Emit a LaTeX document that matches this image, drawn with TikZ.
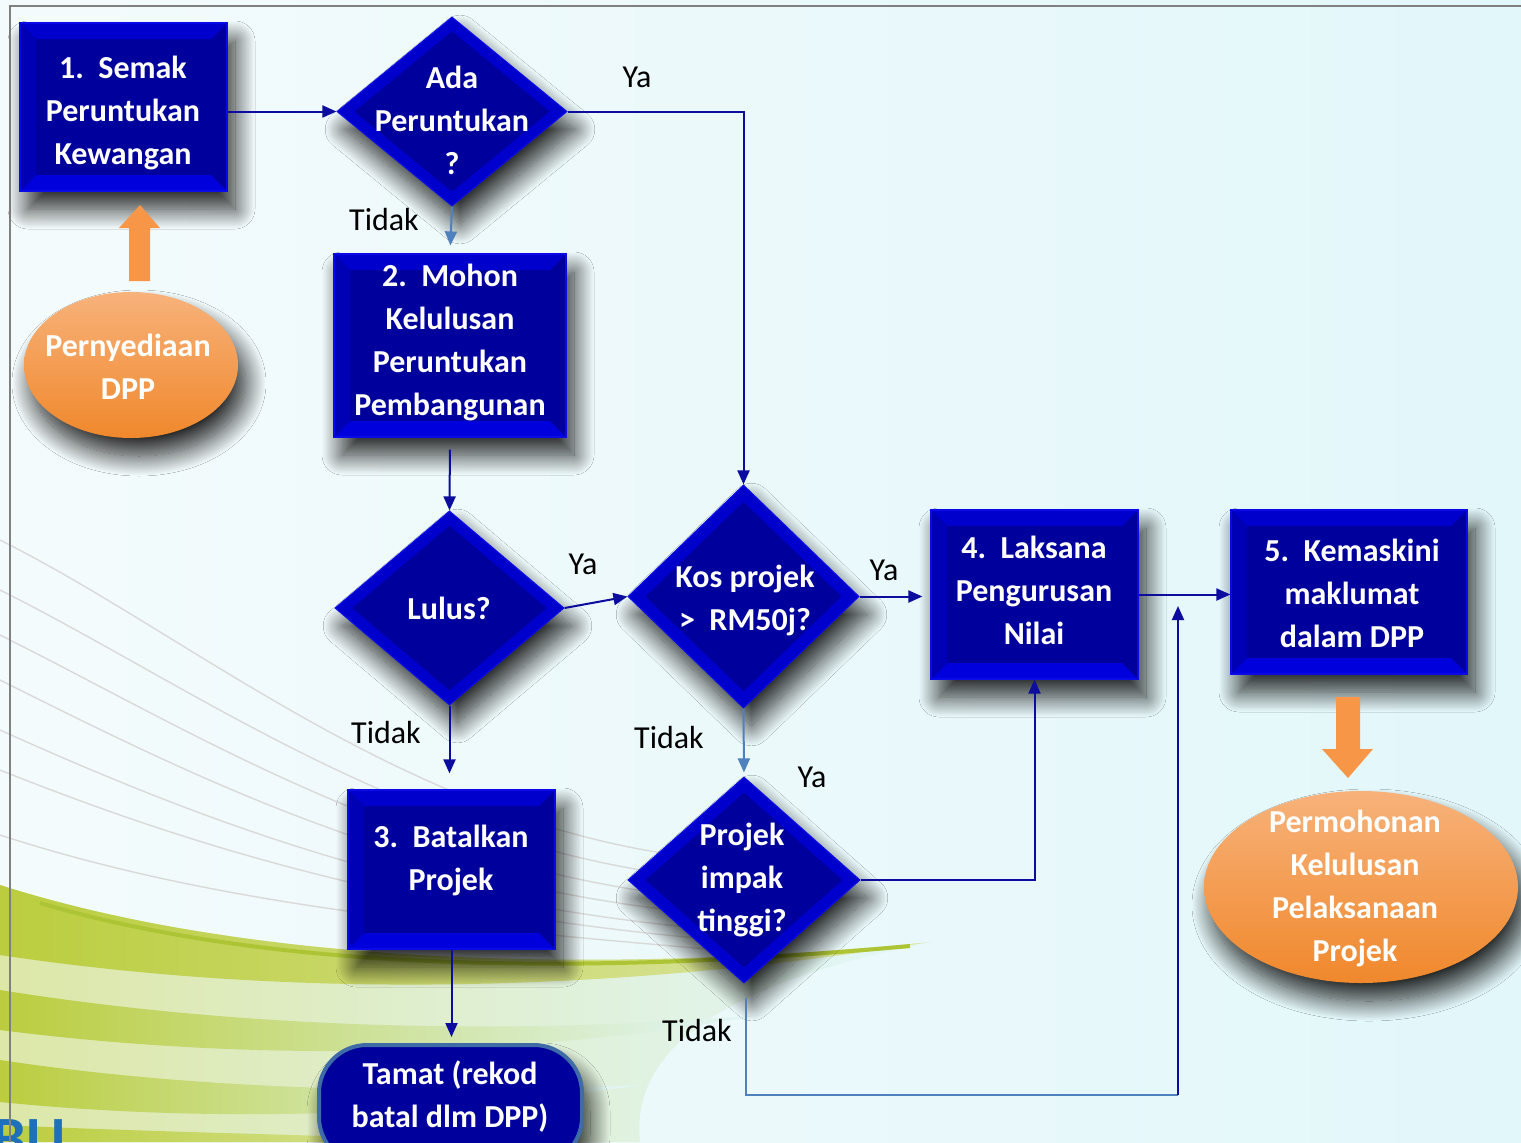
\documentclass[tikz,border=0pt]{standalone}
\usepackage{fontspec}
\setmainfont{Carlito}
\usetikzlibrary{arrows.meta,shapes.geometric,shadows.blur,calc}

\definecolor{bgleft}{HTML}{F4FBFC}
\definecolor{bgright}{HTML}{E2F7FA}
\definecolor{boxnavy}{HTML}{00009C}
\definecolor{boxedge}{HTML}{0A0AE8}
\definecolor{bevtop}{HTML}{0000CC}
\definecolor{bevbot}{HTML}{0000DC}
\definecolor{bevside}{HTML}{0000B4}
\definecolor{connavy}{HTML}{0C0C9E}
\definecolor{steelblue}{HTML}{4F81BD}
\definecolor{orangeT}{HTML}{F7B27A}
\definecolor{orangeB}{HTML}{F0882C}
\definecolor{orangearrow}{HTML}{F79646}
\definecolor{greenmain}{HTML}{BBCD3E}
\definecolor{greenpale}{HTML}{DDE7A8}
\definecolor{greendark}{HTML}{ADC434}
\definecolor{tamatedge}{HTML}{3F6BA6}
\definecolor{logoblue}{HTML}{1F70BA}

% bevel kotak
\newcommand{\bevelbox}{%
  \coordinate (bbnw) at (path picture bounding box.north west);
  \coordinate (bbne) at (path picture bounding box.north east);
  \coordinate (bbse) at (path picture bounding box.south east);
  \coordinate (bbsw) at (path picture bounding box.south west);
  \fill[bevtop] (bbnw) -- (bbne) -- ([shift={(-8pt,-8pt)}]bbne) -- ([shift={(8pt,-8pt)}]bbnw) -- cycle;
  \fill[bevbot] (bbsw) -- (bbse) -- ([shift={(-8pt,8pt)}]bbse) -- ([shift={(8pt,8pt)}]bbsw) -- cycle;
  \fill[bevside] (bbnw) -- (bbsw) -- ([shift={(8pt,8pt)}]bbsw) -- ([shift={(8pt,-8pt)}]bbnw) -- cycle;
}
% bevel berlian
\newcommand{\bevelkite}{%
  \coordinate (kc) at (path picture bounding box.center);
  \fill[boxnavy] ($(kc)!0.85!(path picture bounding box.north)$) -- ($(kc)!0.85!(path picture bounding box.east)$)
    -- ($(kc)!0.85!(path picture bounding box.south)$) -- ($(kc)!0.85!(path picture bounding box.west)$) -- cycle;
}

\begin{document}
\begin{tikzpicture}[x=0.5pt,y=-0.5pt,
	softshadow/.style={blur shadow={shadow xshift=4pt, shadow yshift=-9pt, shadow blur radius=10pt, shadow opacity=85, shadow blur steps=24}},
	stepbox/.style={rectangle, fill=boxnavy, draw=boxedge, line width=0.6pt, inner sep=0pt, path picture={\bevelbox}, softshadow},
	decision/.style={diamond, fill=bevtop, draw=boxedge, line width=0.6pt, inner sep=0pt, path picture={\bevelkite}, softshadow},
	oval/.style={ellipse, top color=orangeT, bottom color=orangeB, inner sep=0pt, softshadow},
	boxtxt/.style={text=white, font=\bfseries\fontsize{16}{21.5}\selectfont, align=center, inner sep=0pt},
	lbl/.style={text=black, font=\fontsize{16}{19}\selectfont, inner sep=0pt},
	conn/.style={draw=connavy, line width=1pt, -{Triangle[width=6pt,length=7pt]}},
	steelconn/.style={draw=steelblue, line width=1pt, -{Triangle[width=6pt,length=7pt]}},
	steelline/.style={draw=steelblue, line width=1pt}]
	\useasboundingbox (0,0) rectangle (1521,1142);

	% Latar belakang
		\fill[left color=bgleft, right color=bgright] (0,0) rectangle (1521,1142);
		% Garis halus
			\draw[gray!30, line width=0.7pt] (0,540) .. controls (200,640) and (420,835) .. (720,860);
			\draw[gray!30, line width=0.7pt] (0,590) .. controls (200,690) and (420,855) .. (720,880);
			\draw[gray!30, line width=0.7pt] (0,635) .. controls (200,735) and (420,875) .. (720,900);
			\draw[gray!30, line width=0.7pt] (0,680) .. controls (200,780) and (420,890) .. (720,915);
			\draw[gray!30, line width=0.7pt] (0,730) .. controls (200,820) and (420,905) .. (720,930);
			\draw[gray!30, line width=0.7pt] (0,770) .. controls (200,850) and (420,915) .. (720,940);
			\draw[gray!30, line width=0.7pt] (0,835) .. controls (200,900) and (420,925) .. (720,950);
		% Lengkung hijau
			\shade[left color=greenpale, right color=bgright] (0,885) .. controls (250,965) and (600,975) .. (930,942) .. controls (720,985) and (630,1050) .. (640,1142) -- (0,1142) -- cycle;
			\shade[left color=greenmain, right color=greenpale] (0,885) .. controls (250,965) and (600,975) .. (930,942) .. controls (620,992) and (300,1000) .. (0,955) -- cycle;
			\shade[left color=greenmain, right color=bgright] (0,990) .. controls (250,1030) and (520,1035) .. (760,1015) .. controls (520,1058) and (250,1062) .. (0,1030) -- cycle;
			\shade[left color=greenmain, right color=bgright] (0,1060) .. controls (200,1090) and (420,1095) .. (640,1085) .. controls (420,1118) and (200,1122) .. (0,1102) -- cycle;
			\shade[left color=greenmain, right color=greenpale] (0,1125) .. controls (150,1132) and (350,1136) .. (520,1142) -- (0,1142) -- cycle;
			\draw[greendark, line width=2pt] (40,903) .. controls (260,968) and (560,978) .. (910,946);
		% Logo
			\node[text=logoblue, font=\bfseries\fontsize{30}{30}\selectfont, anchor=north west, inner sep=0pt] (logo) at (-8,1119) {BU};
		% Bingkai
			\draw[gray, line width=1pt] (10,1142) -- (10,6) -- (1521,6);

	% Kotak langkah
		\node[stepbox, minimum width=103.5pt, minimum height=84pt] (semak) at (123.5,107) {};
		\node[stepbox, minimum width=116pt, minimum height=91.5pt] (mohon) at (450,345.5) {};
		\node[stepbox, minimum width=103.5pt, minimum height=79.5pt] (batalkan) at (451.5,869.5) {};
		\node[stepbox, minimum width=103.5pt, minimum height=84.5pt] (laksana) at (1034.5,594.5) {};
		\node[stepbox, minimum width=118pt, minimum height=82pt] (kemaskini) at (1349,592) {};
		\node[rectangle, rounded corners=24pt, fill=boxnavy, draw=tamatedge, line width=2pt, minimum width=131.5pt, minimum height=60pt, softshadow] (tamat) at (450.5,1105) {};

	% Keputusan
		\node[decision, minimum width=115pt, minimum height=94.5pt] (ada) at (452,111.5) {};
		\node[decision, minimum width=114.5pt, minimum height=97pt] (lulus) at (449.5,608) {};
		\node[decision, minimum width=115.5pt, minimum height=111.5pt] (kos) at (743.5,596.5) {};
		\node[decision, minimum width=116pt, minimum height=103pt] (impak) at (744,880) {};

	% Bujur oren dan anak panah blok
		\node[oval, minimum width=107pt, minimum height=73pt] (sedia) at (131,365) {};
		\node[oval, minimum width=157pt, minimum height=96pt] (mohonlaksana) at (1361,887) {};
		\fill[orangearrow] (129,281) -- (129,228) -- (119,228) -- (140,205) -- (160,228) -- (150,228) -- (150,281) -- cycle;
		\fill[orangearrow] (1336,697) -- (1336,749) -- (1322,749) -- (1348,778) -- (1373,749) -- (1360,749) -- (1360,697) -- cycle;

	% Penyambung
		\draw[conn] (semak.east |- ada.west) -- (ada.west);
		\draw[conn] (ada.east) -| (kos.north);
		\draw[steelconn, shorten >=4pt] (ada.south) -- (mohon.north);
		\draw[conn, shorten <=6pt] (mohon.south) -- (lulus.north);
		\draw[conn] (lulus.east) -- (kos.west);
		\draw[conn, shorten >=4pt] (kos.east) -- (kos.east -| laksana.west);
		\draw[conn] (laksana.east) -- (laksana.east -| kemaskini.west);
		\draw[conn, shorten >=8pt] (lulus.south) -- (lulus.south |- batalkan.north);
		\draw[steelconn, shorten >=2pt] (kos.south) -- (impak.north);
		\draw[conn] (impak.east) -| (laksana.south);
		\draw[conn, shorten >=3pt] (batalkan.south) -- (batalkan.south |- tamat.north);
		% Tidak dari impak
			\coordinate (tdk1) at (746,998);
			\coordinate (tdk2) at (746,1095);
			\coordinate (tdk3) at (1178,1095);
			\coordinate (tdk4) at (1178,606);
			\draw[steelline] (tdk1) -- (tdk2) -- (tdk3);
			\draw[conn] (tdk3) -- (tdk4);

	% Teks
		\node[boxtxt] (semaktxt) at (123,113) {1.\ \ Semak\\Peruntukan\\Kewangan};
		\node[boxtxt] (adatxt) at (452,120) {Ada\\Peruntukan\\?};
		\node[boxtxt] (mohontxt) at (450,342) {2.\ \ Mohon\\Kelulusan\\Peruntukan\\Pembangunan};
		\node[boxtxt] (lulustxt) at (449,608) {Lulus?};
		\node[boxtxt] (kostxt) at (745,600) {Kos projek\\>\ \ RM50j?};
		\node[boxtxt] (laksanatxt) at (1034,590) {4.\ \ Laksana\\Pengurusan\\Nilai};
		\node[boxtxt] (kemaskinitxt) at (1352,593) {5.\ \ Kemaskini\\maklumat\\dalam DPP};
		\node[boxtxt] (batalkantxt) at (451,860) {3.\ \ Batalkan\\Projek};
		\node[boxtxt] (impaktxt) at (742,880) {Projek\\impak\\tinggi?};
		\node[boxtxt] (tamattxt) at (450,1097) {Tamat (rekod\\batal dlm DPP)};
		\node[boxtxt] (sediatxt) at (128,367) {Pernyediaan\\DPP};
		\node[boxtxt] (mohonlaksanatxt) at (1355,888) {Permohonan\\Kelulusan\\Pelaksanaan\\Projek};

	% Label
		\node[lbl] (ya1) at (637,77) {Ya};
		\node[lbl] (tidak1) at (384,219) {Tidak};
		\node[lbl] (ya2) at (583,564) {Ya};
		\node[lbl] (ya3) at (884,570) {Ya};
		\node[lbl] (tidak2) at (386,732) {Tidak};
		\node[lbl] (tidak3) at (669,737) {Tidak};
		\node[lbl] (ya4) at (812,777) {Ya};
		\node[lbl] (tidak4) at (697,1030) {Tidak};
\end{tikzpicture}
\end{document}
